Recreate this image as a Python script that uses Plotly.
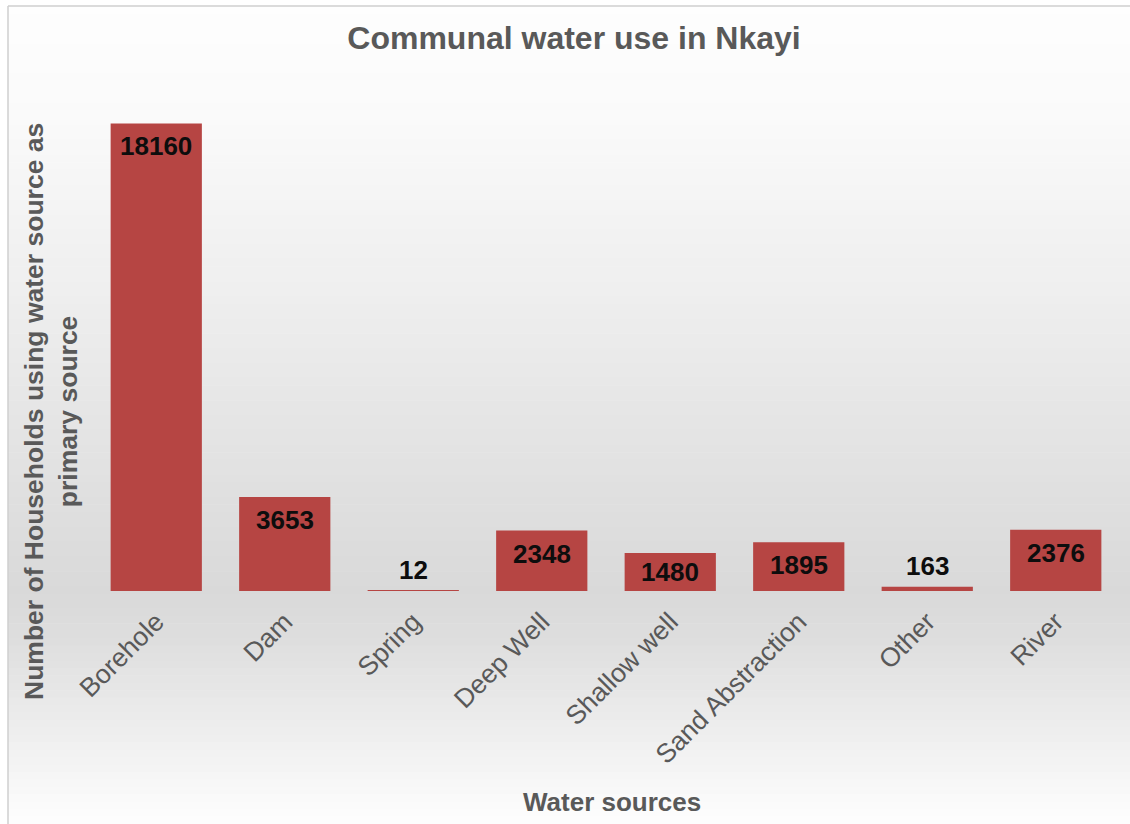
import plotly.graph_objects as go

# ---- data ----
categories = ["Borehole", "Dam", "Spring", "Deep Well", "Shallow well",
              "Sand Abstraction", "Other", "River"]
households = [18160, 3653, 12, 2348, 1480, 1895, 163, 2376]

chart_title = "Communal water use in Nkayi"
x_title = "Water sources"
y_title = "Number of Households using water source as<br>primary source"

# ---- layout geometry (pixels) ----
W, H = 1130, 824
ML, MR, MT, MB = 92, 10, 76, 233
PW, PH = W - ML - MR, H - MT - MB
YMAX = 20000
FONT = "Liberation Sans, Arial"


def px_to_paper_y(py):
    return (H - MB - py) / PH


def px_to_paper_x(px):
    return (px - ML) / PW


fig = go.Figure()
fig.add_trace(go.Bar(
    x=categories, y=households,
    marker=dict(color="#b64543", line=dict(width=0)),
    hoverinfo="x+y",
))

# value labels
annotations = []
for cat, v in zip(categories, households):
    hpx = v / YMAX * PH
    lab = dict(x=cat, text="<b>" + str(v) + "</b>", showarrow=False,
               font=dict(size=26, color="#0d0d0d", family=FONT))
    if hpx >= 46:
        lab.update(y=v, yshift=-23, yanchor="middle")
    elif hpx >= 20:
        lab.update(y=v / 2, yanchor="middle")
    else:
        lab.update(y=v, yshift=4, yanchor="bottom")
    annotations.append(lab)

# axis titles as annotations
annotations.append(dict(
    xref="paper", yref="paper", x=px_to_paper_x(51), y=px_to_paper_y(412),
    xanchor="center", yanchor="middle", textangle=-90, showarrow=False,
    text="<b>" + y_title + "</b>",
    font=dict(size=26.5, color="#595959", family=FONT)))
annotations.append(dict(
    xref="paper", yref="paper", x=px_to_paper_x(612), y=px_to_paper_y(802),
    xanchor="center", yanchor="middle", showarrow=False,
    text="<b>" + x_title + "</b>",
    font=dict(size=26, color="#595959", family=FONT)))

# background vertical gradient (white -> grey -> white) via thin bands
stops = [(0, 254), (120, 250), (300, 238), (450, 227), (590, 217),
         (640, 222), (720, 236), (800, 250), (824, 253)]


def grey_at(py):
    for (y0, g0), (y1, g1) in zip(stops[:-1], stops[1:]):
        if y0 <= py <= y1:
            t = (py - y0) / (y1 - y0)
            return g0 + t * (g1 - g0)
    return stops[-1][1]


shapes = []
top_px, left_px = 6, 8
nb = 110
step = (H - top_px) / nb
for i in range(nb):
    y0 = top_px + i * step
    y1 = y0 + step + 0.6
    g = int(round(grey_at(y0 + step / 2)))
    shapes.append(dict(type="rect", xref="paper", yref="paper",
                       x0=px_to_paper_x(left_px), x1=px_to_paper_x(W + 60),
                       y0=px_to_paper_y(y1), y1=px_to_paper_y(y0),
                       fillcolor=f"rgb({g},{g},{g})", line=dict(width=0),
                       layer="below"))
# border (top and left)
shapes.append(dict(type="line", xref="paper", yref="paper",
                   x0=px_to_paper_x(left_px), x1=px_to_paper_x(W + 60),
                   y0=px_to_paper_y(top_px), y1=px_to_paper_y(top_px),
                   line=dict(color="#cfcfcf", width=1.5), layer="below"))
shapes.append(dict(type="line", xref="paper", yref="paper",
                   x0=px_to_paper_x(left_px), x1=px_to_paper_x(left_px),
                   y0=px_to_paper_y(top_px), y1=px_to_paper_y(H + 60),
                   line=dict(color="#cfcfcf", width=1.5), layer="below"))

fig.update_layout(
    width=W, height=H,
    margin=dict(l=ML, r=MR, t=MT, b=MB, pad=0),
    paper_bgcolor="white", plot_bgcolor="rgba(0,0,0,0)",
    bargap=0.29,
    showlegend=False,
    title=dict(text="<b>" + chart_title + "</b>", xref="container",
               x=574 / W, y=1 - 38 / H, xanchor="center", yanchor="middle",
               font=dict(size=32, color="#595959", family=FONT)),
    xaxis=dict(tickangle=-45, showgrid=False, zeroline=False, showline=False,
               ticks="", ticklabelstandoff=9,
               tickfont=dict(size=26.5, color="#595959", family=FONT)),
    yaxis=dict(range=[0, YMAX], showticklabels=False, showgrid=False,
               zeroline=False, showline=False, ticks=""),
    annotations=annotations,
    shapes=shapes,
)

fig.write_html("out.html")
